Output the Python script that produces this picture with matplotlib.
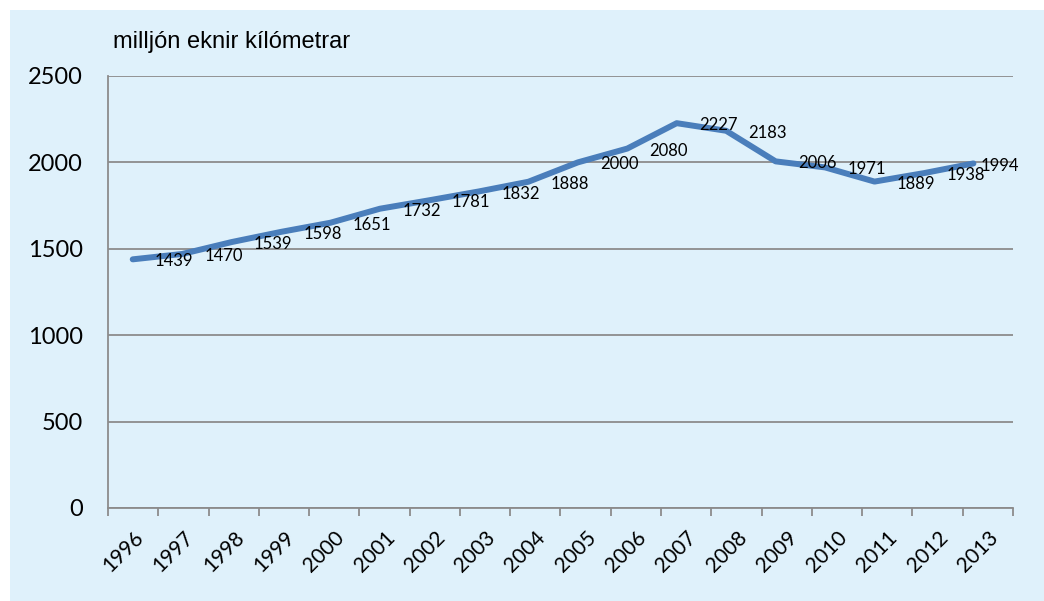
import matplotlib.pyplot as plt
import numpy as np
from matplotlib.patches import Rectangle

years = ["1996", "1997", "1998", "1999", "2000", "2001", "2002", "2003", "2004",
         "2005", "2006", "2007", "2008", "2009", "2010", "2011", "2012", "2013"]
km = [1439, 1470, 1539, 1598, 1651, 1732, 1781, 1832, 1888,
      2000, 2080, 2227, 2183, 2006, 1971, 1889, 1938, 1994]
y_ticks = [0, 500, 1000, 1500, 2000, 2500]
unit_label = "milljón eknir kílómetrar"

W, H = 1044, 601
bg = "#DFF1FB"
line_col = "#4A7EBB"
grid_col = "#8C8C8C"

fig = plt.figure(figsize=(W / 100, H / 100), dpi=100)
fig.patch.set_facecolor("white")
fig.patches.append(Rectangle((10 / W, 0), 1 - 10 / W, 1 - 10 / H,
                             transform=fig.transFigure, facecolor=bg,
                             edgecolor="none", zorder=-10))

ax = fig.add_axes([108 / W, 1 - 508 / H, (1013 - 108) / W, (508 - 76) / H])
ax.set_facecolor(bg)

x = np.arange(len(years))
ax.plot(x, km, color=line_col, lw=4.3, solid_capstyle="round",
        solid_joinstyle="round", zorder=3)

for i, v in enumerate(km):
    dx = 5 if i == len(km) - 1 else 16
    ax.annotate(str(v), (x[i], v), xytext=(dx, -1.5), textcoords="offset points",
                ha="left", va="center", fontsize=12, family="Lato", zorder=4)

# series is slightly narrower than the category axis in the original
n = len(years)
lo, hi = -0.5, 17.8
step = (hi - lo) / n
bounds = lo + step * np.arange(n + 1)
centers = bounds[:-1] + step / 2
ax.set_xlim(lo, hi)
ax.set_ylim(0, 2500)

ax.set_xticks(bounds)
ax.set_xticklabels([])
ax.set_xticks(centers, minor=True)
ax.set_xticklabels(years, minor=True, rotation=45, ha="right",
                   rotation_mode="anchor", fontsize=15, family="Lato")
ax.tick_params(axis="x", which="major", length=6, width=1.3, color=grid_col)
ax.tick_params(axis="x", which="minor", length=0, pad=14)

ax.set_yticks(y_ticks)
ax.set_yticklabels([str(t) for t in y_ticks], fontsize=17, family="Lato")
ax.tick_params(axis="y", length=0, pad=18)
ax.yaxis.grid(True, color=grid_col, lw=1.3)
ax.set_axisbelow(True)

for s in ["top", "right"]:
    ax.spines[s].set_visible(False)
for s in ["left", "bottom"]:
    ax.spines[s].set_color(grid_col)
    ax.spines[s].set_linewidth(1.3)

fig.text(113 / W, 1 - 48 / H, unit_label, fontsize=17,
         family="Liberation Sans", ha="left", va="baseline")

fig.savefig("out.png", dpi=100, facecolor=fig.get_facecolor())
